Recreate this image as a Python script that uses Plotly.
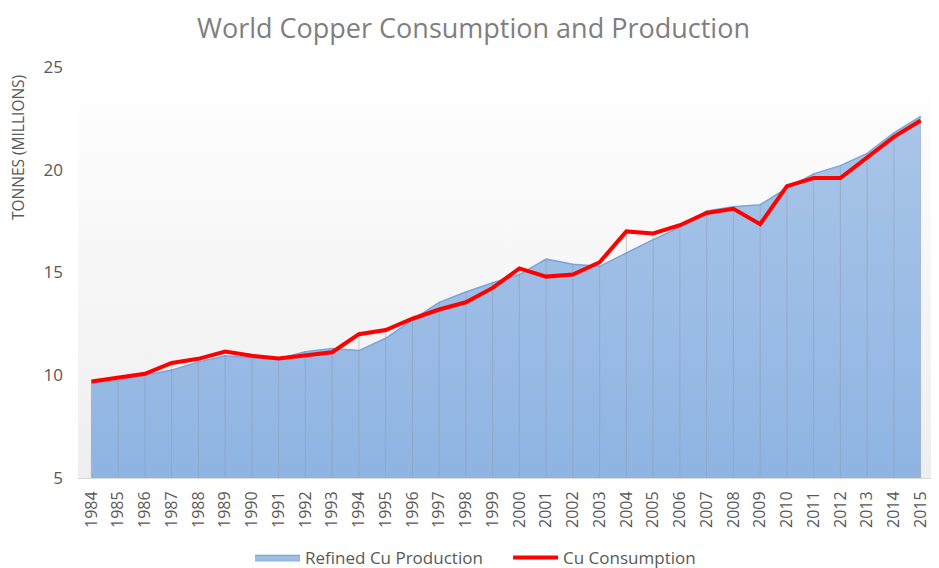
import plotly.graph_objects as go

years = list(range(1984, 2016))
production = [9.6, 9.75, 10.0, 10.25, 10.65, 10.95, 10.85, 10.8, 11.15, 11.3,
              11.2, 11.8, 12.7, 13.55, 14.05, 14.5, 14.9, 15.65, 15.4, 15.3,
              15.95, 16.6, 17.2, 18.0, 18.2, 18.3, 19.1, 19.8, 20.2, 20.8,
              21.8, 22.6]
consumption = [9.7, 9.9, 10.07, 10.6, 10.8, 11.15, 10.95, 10.82, 10.95, 11.12,
               12.0, 12.2, 12.75, 13.2, 13.55, 14.25, 15.2, 14.8, 14.9, 15.5,
               17.0, 16.9, 17.3, 17.9, 18.1, 17.35, 19.2, 19.6, 19.6, 20.6,
               21.6, 22.4]
y_ticks = [5, 10, 15, 20, 25]
y_min, y_max = 5, 25
x_min, x_max = years[0] - 0.5, years[-1] + 0.5

fig = go.Figure()

# subtle vertical gradient plot background
fig.add_trace(go.Scatter(
    x=[x_min, x_max], y=[y_max, y_max], mode="lines", line=dict(width=0),
    fill="tozeroy",
    fillgradient=dict(type="vertical", start=y_min, stop=y_max,
                      colorscale=[[0, "#eeeeee"], [1, "#ffffff"]]),
    showlegend=False, hoverinfo="skip"))

fig.add_trace(go.Scatter(
    x=years, y=production, name="Refined Cu Production", mode="lines",
    line=dict(color="#7aa5d8", width=1.5), fill="tozeroy",
    fillgradient=dict(type="vertical", start=y_min, stop=max(production),
                      colorscale=[[0, "#8fb4e2"], [1, "#a9c5e8"]]),
    fillcolor="#9bbbe4"))

# drop lines
dx, dy = [], []
for yr, p, c in zip(years, production, consumption):
    dx += [yr, yr, None]
    dy += [y_min, max(p, c), None]
fig.add_trace(go.Scatter(x=dx, y=dy, mode="lines",
                         line=dict(color="rgba(140,150,165,0.45)", width=1),
                         showlegend=False, hoverinfo="skip"))

fig.add_trace(go.Scatter(
    x=years, y=consumption, name="Cu Consumption", mode="lines",
    line=dict(color="#ff0000", width=4)))

fig.update_layout(
    width=931, height=560,
    paper_bgcolor="white", plot_bgcolor="white",
    margin=dict(l=70, r=5, t=59, b=90),
    font=dict(family="Open Sans", color="#595959"),
    title=dict(text="World Copper Consumption and Production",
               x=0.5, xanchor="center", y=0.963, yanchor="middle",
               font=dict(size=27, color="#7f7f7f")),
    xaxis=dict(range=[x_min, x_max], tickmode="array", tickvals=years,
               ticktext=[str(y) for y in years], tickangle=-90,
               tickfont=dict(size=16, color="#595959"),
               ticklabelstandoff=6,
               showgrid=False, zeroline=False, showline=True,
               linecolor="#d9d9d9", linewidth=1, ticks=""),
    yaxis=dict(range=[y_min, y_max], tickvals=y_ticks, showgrid=False,
               zeroline=False, showline=False, ticks="",
               ticklabelstandoff=14,
               tickfont=dict(size=17, color="#595959")),
    legend=dict(orientation="h", xref="container", yref="container",
                x=0.26, xanchor="left", y=0.018, yanchor="middle",
                font=dict(size=17, color="#595959"),
                itemwidth=45, entrywidth=198),
    annotations=[dict(text="TONNES (MILLIONS)", textangle=-90,
                      xref="paper", yref="paper", x=-0.070, y=0.803,
                      xanchor="center", yanchor="middle", showarrow=False,
                      font=dict(size=15.5, color="#595959"))],
)

fig.write_html("out.html")
